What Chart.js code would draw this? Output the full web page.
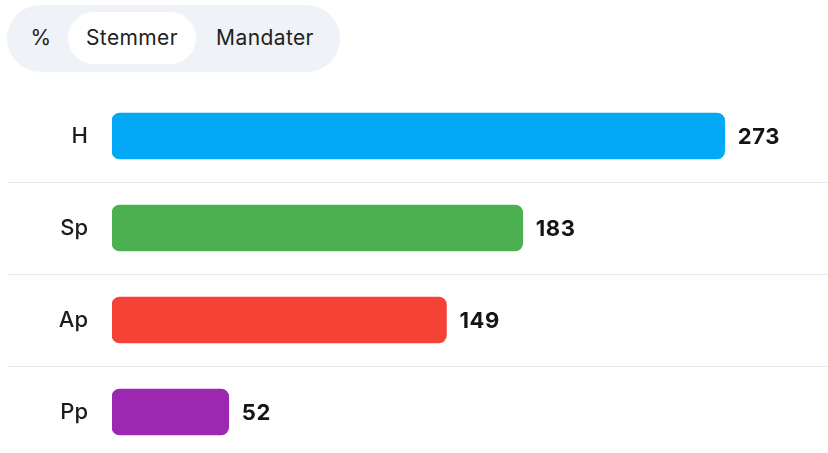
<!DOCTYPE html>
<html>
<head>
<meta charset="utf-8">
<script src="https://cdn.jsdelivr.net/npm/chart.js@4"></script>
<style>
    html, body { margin: 0; padding: 0; background: #fff; overflow: hidden; }
    body { width: 828px; height: 453px; position: relative; font-family: Inter, "Noto Sans", sans-serif; }
    .toggle {
        position: absolute; left: 7px; top: 5px; width: 333px; height: 67px;
        background: #eff2f7; border-radius: 34px;
    }
    .toggle span {
        position: absolute; top: 7px; height: 52px; line-height: 52px;
        font-size: 21px; letter-spacing: 0.4px; color: #222; text-align: center;
    }
    .toggle .active { background: #fff; border-radius: 26px; }
    .chart-container { position: absolute; left: 0; top: 90px; width: 828px; height: 368px; }
</style>
</head>
<body>
<div class="toggle">
    <span style="left: 14px; width: 40px;">%</span>
    <span class="active" style="left: 61px; width: 128px;">Stemmer</span>
    <span style="left: 196px; width: 124px;">Mandater</span>
</div>
<div class="chart-container">
    <canvas id="chart"></canvas>
</div>
<script>
const parties = ['H', 'Sp', 'Ap', 'Pp']
const votes = [273, 183, 149, 52]
const colors = ['#03a9f4', '#4caf50', '#f44336', '#9c27b0']

// value text at the end of each bar
const valueLabels = {
    id: 'valueLabels',
    afterDatasetsDraw(chart) {
        const ctx = chart.ctx
        const meta = chart.getDatasetMeta(0)
        ctx.save()
        ctx.font = '700 22px Inter'
        ctx.letterSpacing = '0.6px'
        ctx.fillStyle = '#151515'
        ctx.textAlign = 'left'
        ctx.textBaseline = 'middle'
        meta.data.forEach((bar, i) => {
            ctx.fillText(votes[i], bar.x + 13, bar.y + 1)
        })
        ctx.restore()
    }
}

new Chart(document.getElementById('chart'), {
    type: 'bar',
    data: {
        labels: parties,
        datasets: [{
            data: votes,
            backgroundColor: colors,
            borderRadius: 8,
            borderSkipped: false,
            barThickness: 46
        }]
    },
    options: {
        indexAxis: 'y',
        responsive: true,
        maintainAspectRatio: false,
        animation: false,
        layout: { padding: 0 },
        plugins: {
            legend: { display: false },
            tooltip: { enabled: false }
        },
        scales: {
            x: {
                display: false,
                min: 0,
                max: 319
            },
            y: {
                border: { display: false },
                grid: {
                    offset: true,
                    color: (c) => c.index === 0 ? 'rgba(0,0,0,0)' : '#e6e9ef',
                    tickLength: 104,
                    lineWidth: 1
                },
                ticks: {
                    padding: -80,
                    color: '#1c1c1c',
                    font: { family: 'Inter', size: 22, weight: 500 }
                },
                afterFit(scale) { scale.width = 112 }
            }
        }
    },
    plugins: [valueLabels]
})
</script>
</body>
</html>
